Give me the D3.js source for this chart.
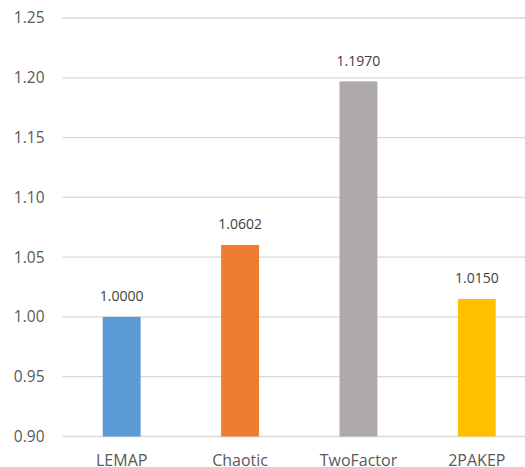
<!DOCTYPE html>
<html><head><meta charset="utf-8">
<script src="https://cdn.jsdelivr.net/npm/d3@7"></script>
<style>body{margin:0;background:#fff;}svg{display:block;font-family:"Open Sans","Liberation Sans",sans-serif;}</style>
</head><body>
<svg id="c" width="525" height="467"></svg>
<script>
const categories = ["LEMAP","Chaotic","TwoFactor","2PAKEP"];
const values = [1.0000, 1.0602, 1.1970, 1.0150];
const labels = ["1.0000","1.0602","1.1970","1.0150"];
const colors = ["#5B9BD5","#ED7D31","#AEAAAA","#FFC000"];
const ticks = [0.90,0.95,1.00,1.05,1.10,1.15,1.20,1.25];

(function(){
const svg = d3.select("#c");
const mLeft = 62.5, mRight = 536, mTop = 18, mBottom = 436.5;
const x = d3.scaleBand().domain(categories).range([mLeft,mRight]).padding(0);
const y = d3.scaleLinear().domain([0.90,1.25]).range([mBottom,mTop]);
const bw = x.bandwidth()*0.32;

svg.append("g").selectAll("line").data(ticks).join("line")
  .attr("x1",mLeft).attr("x2",525).attr("y1",d=>y(d)).attr("y2",d=>y(d))
  .attr("stroke","#d9d9d9").attr("stroke-width",1.3);

const yAxis = d3.axisLeft(y).tickValues(ticks).tickFormat(d3.format(".2f")).tickSize(0).tickPadding(0);
const ga = svg.append("g").attr("transform","translate(44.5,0)").call(yAxis);
ga.select(".domain").remove();
ga.selectAll("text").attr("fill","#595959").style("font-size","15.5px").style("font-family","'Open Sans','Liberation Sans',sans-serif");

svg.append("g").selectAll("rect").data(categories).join("rect")
  .attr("x",(d)=>x(d)+x.bandwidth()/2-bw/2)
  .attr("width",bw)
  .attr("y",(d,i)=>y(values[i]))
  .attr("height",(d,i)=>y(0.90)-y(values[i]))
  .attr("fill",(d,i)=>colors[i]);

svg.append("g").selectAll("text").data(categories).join("text")
  .attr("x",d=>x(d)+x.bandwidth()/2)
  .attr("y",(d,i)=>y(values[i])-15.5)
  .attr("text-anchor","middle").attr("fill","#404040").style("font-size","14px")
  .text((d,i)=>labels[i]);

const xAxis = d3.axisBottom(x).tickSize(0).tickPadding(0);
const gx = svg.append("g").attr("transform",`translate(0,${mBottom})`).call(xAxis);
gx.select(".domain").remove();
gx.selectAll("text").attr("fill","#595959").attr("dy",0).attr("y",29.5).style("font-size","16px").style("font-family","'Open Sans','Liberation Sans',sans-serif");
})();
</script>
</body></html>
